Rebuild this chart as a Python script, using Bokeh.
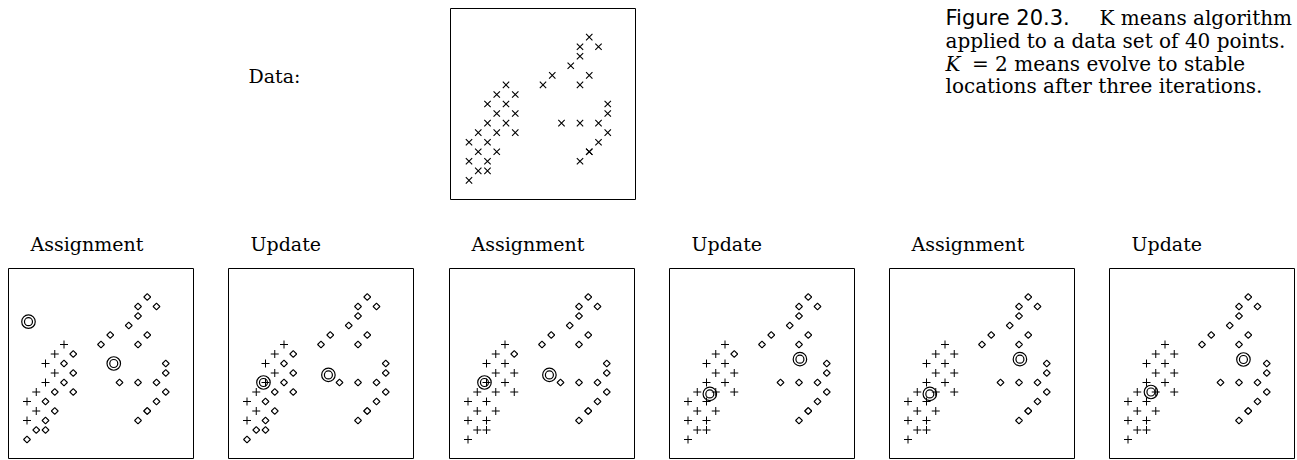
from bokeh.plotting import figure
from bokeh.layouts import column, row
from bokeh.models import Range1d
from bokeh.core.properties import value
from bokeh.embed import file_html
from bokeh.resources import INLINE
import math

# ---------------- data (40 points, one duplicated) ----------------
pts_x = [7.5, 7.0, 8.0, 7.0, 6.5, 5.5, 7.5, 5.0, 7.0, 3.0,
         2.5, 3.5, 2.0, 3.0, 8.5, 2.5, 3.5, 8.5, 2.0, 3.0,
         6.0, 7.0, 8.0, 1.5, 2.5, 3.5, 8.5, 1.0, 2.0, 8.0,
         1.5, 2.5, 7.5, 7.5, 1.0, 2.0, 7.0, 1.5, 2.0, 1.0]
pts_y = [8.5, 8.0, 8.0, 7.5, 7.0, 6.5, 6.5, 6.0, 6.0, 6.0,
         5.5, 5.5, 5.0, 5.0, 5.0, 4.5, 4.5, 4.5, 4.0, 4.0,
         4.0, 4.0, 4.0, 3.5, 3.5, 3.5, 3.5, 3.0, 3.0, 3.0,
         2.5, 2.5, 2.5, 2.5, 2.0, 2.0, 2.0, 1.5, 1.5, 1.0]

# cluster membership shown in each step (1 = "+", 0 = diamond)
assign_1 = [0, 0, 0, 0, 0, 0, 0, 0, 0, 1,
            1, 0, 1, 0, 0, 1, 0, 0, 1, 0,
            0, 0, 0, 1, 0, 0, 0, 1, 0, 0,
            1, 0, 0, 0, 1, 0, 0, 0, 0, 0]
assign_2 = [0, 0, 0, 0, 0, 0, 0, 0, 0, 1,
            1, 0, 1, 1, 0, 1, 1, 0, 1, 1,
            0, 0, 0, 1, 1, 1, 0, 1, 1, 0,
            1, 1, 0, 0, 1, 1, 0, 1, 1, 1]
assign_3 = [0, 0, 0, 0, 0, 0, 0, 0, 0, 1,
            1, 1, 1, 1, 0, 1, 1, 0, 1, 1,
            0, 0, 0, 1, 1, 1, 0, 1, 1, 0,
            1, 1, 0, 0, 1, 1, 0, 1, 1, 1]

# means shown in each of the six panels
mean_a_x = [1.08, 1.89, 1.89, 2.18, 2.18, 2.24]
mean_a_y = [7.20, 4.00, 4.00, 3.40, 3.40, 3.50]
mean_b_x = [5.69, 5.40, 5.40, 7.05, 7.05, 7.24]
mean_b_y = [5.00, 4.40, 4.40, 5.23, 5.23, 5.21]

panel_titles = ["Assignment", "Update", "Assignment", "Update", "Assignment", "Update"]
panel_assign = [assign_1, assign_1, assign_2, assign_2, assign_3, assign_3]

caption_sans = "Figure 20.3."
caption_lines = ["K means algorithm",
                 "applied to a data set of 40 points.",
                 "= 2 means evolve to stable",
                 "locations after three iterations."]

# ---------------- styling / layout constants ----------------
SERIF = value("DejaVu Serif")
SANS = value("DejaVu Sans")
FS = "19px"
CFS = "20px"
common = dict(output_backend="svg", toolbar_location=None, tools="", title=None)


def canvas(width, height):
    p = figure(width=width, height=height, x_range=Range1d(0, width),
               y_range=Range1d(height, 0), x_axis_type=None, y_axis_type=None,
               min_border=0, **common)
    p.outline_line_color = None
    p.grid.visible = False
    p.background_fill_color = "white"
    p.border_fill_color = "white"
    return p


def panel(width, height, bl, br, bt, bb):
    p = figure(width=width, height=height, x_range=Range1d(0, 10), y_range=Range1d(0, 10),
               x_axis_type=None, y_axis_type=None,
               min_border_left=bl, min_border_right=br,
               min_border_top=bt, min_border_bottom=bb, **common)
    p.grid.visible = False
    p.outline_line_color = "black"
    p.outline_line_width = 1
    p.background_fill_color = "white"
    p.border_fill_color = "white"
    return p


def txt(p, xs, ys, texts, font, size, style="normal"):
    p.text(x=xs, y=ys, text=texts, text_font=font, text_font_size=size,
           text_font_style=style, text_baseline="alphabetic", text_align="left",
           text_color="black")


# ---------------- top row (height 201) ----------------
left = canvas(449, 201)
txt(left, [248], [71], ["Data:"], SERIF, FS)

top = panel(187, 201, 1, 1, 8, 2)          # frame 185 x 191
top.scatter(pts_x, pts_y, marker="x", size=9, line_color="black", line_width=1.1)

cap = canvas(661, 201)
txt(cap, [309], [10.5], [caption_sans], SANS, "21px")
txt(cap, [463, 309], [10.5, 34.5], caption_lines[0:2], SERIF, CFS)
txt(cap, [309], [58], ["K"], SERIF, CFS, "italic")
txt(cap, [335.5, 309], [58, 81.5], caption_lines[2:4], SERIF, CFS)

# ---------------- bottom row ----------------
fig_widths = [227, 221, 220, 220, 220, 189]
left_borders = [8, 1, 1, 1, 1, 1]
FRAME_W = 185
frame_lefts = []
acc = 0
for w, b in zip(fig_widths, left_borders):
    frame_lefts.append(acc + b)
    acc += w

titles = canvas(1297, 66)
txt(titles, [fl + 22 for fl in frame_lefts], [42] * 6, panel_titles, SERIF, FS)

panels = []
for i, w in enumerate(fig_widths):
    bl = left_borders[i]
    p = panel(w, 192, bl, w - bl - FRAME_W, 1, 1)   # frame 185 x 190
    a = panel_assign[i]
    px_plus = [x for x, k in zip(pts_x, a) if k == 1]
    py_plus = [y for y, k in zip(pts_y, a) if k == 1]
    px_dia = [x for x, k in zip(pts_x, a) if k == 0]
    py_dia = [y for y, k in zip(pts_y, a) if k == 0]
    p.scatter(px_plus, py_plus, marker="cross", size=8, line_color="black", line_width=1)
    p.scatter(px_dia, py_dia, marker="square", angle=math.pi / 4, size=4.8,
              line_color="black", fill_color="white", line_width=1.1)
    mx = [mean_a_x[i], mean_b_x[i]]
    my = [mean_a_y[i], mean_b_y[i]]
    p.scatter(mx, my, marker="circle", size=13.5, fill_color=None, line_color="black", line_width=1.2)
    p.scatter(mx, my, marker="circle", size=8, fill_color=None, line_color="black", line_width=1.2)
    panels.append(p)

layout = column(row(left, top, cap), titles, row(*panels))

open("out.html", "w").write(file_html(layout, INLINE))
